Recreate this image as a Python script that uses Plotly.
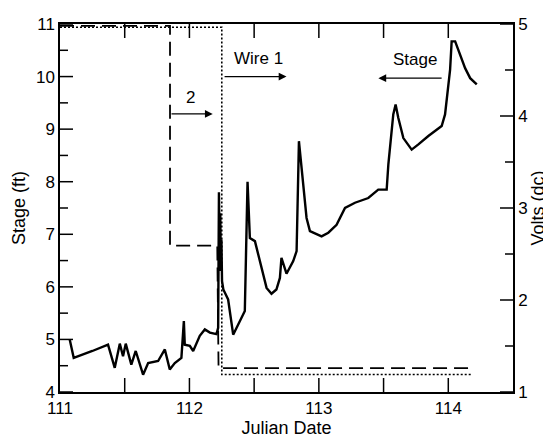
import plotly.graph_objects as go

# Stage (ft) vs Julian date
stage_day = [111.075, 111.106, 111.25, 111.371, 111.423, 111.462, 111.487, 111.508, 111.551,
             111.585, 111.642, 111.681, 111.758, 111.810, 111.848, 111.887, 111.938, 111.957,
             111.964, 112.003, 112.029, 112.054, 112.080, 112.119, 112.158, 112.209, 112.222,
             112.228, 112.233, 112.238, 112.243, 112.247, 112.252, 112.262, 112.299, 112.338,
             112.377, 112.415, 112.428, 112.449, 112.467, 112.506, 112.544, 112.596, 112.634,
             112.672, 112.699, 112.711, 112.750, 112.802, 112.828, 112.846, 112.905, 112.931,
             113.021, 113.073, 113.137, 113.202, 113.279, 113.382, 113.459, 113.524, 113.537,
             113.575, 113.593, 113.614, 113.653, 113.717, 113.769, 113.846, 113.949, 113.975,
             114.014, 114.026, 114.053, 114.091, 114.130, 114.169, 114.220]
stage_ft = [5.00, 4.65, 4.78, 4.90, 4.46, 4.92, 4.68, 4.92, 4.52,
            4.78, 4.33, 4.55, 4.59, 4.81, 4.43, 4.55, 4.65, 5.35,
            4.90, 4.88, 4.78, 4.94, 5.07, 5.19, 5.13, 5.10, 5.22,
            7.80, 6.80, 7.40, 6.30, 6.90, 6.11, 5.95, 5.76, 5.09,
            5.28, 5.47, 5.54, 8.00, 6.93, 6.87, 6.49, 5.98, 5.87,
            5.95, 6.17, 6.55, 6.25, 6.49, 6.68, 8.77, 7.31, 7.06,
            6.96, 7.03, 7.18, 7.50, 7.60, 7.69, 7.85, 7.85, 8.33,
            9.28, 9.47, 9.21, 8.83, 8.61, 8.71, 8.87, 9.06, 9.28,
            10.13, 10.67, 10.67, 10.42, 10.16, 9.97, 9.85]

# Wire 1 (dotted) and wire 2 (dashed), volts dc
wire1_day = [111.0, 112.25, 112.25, 114.18]
wire1_volts = [4.965, 4.965, 1.19, 1.19]
wire2_day = [111.0, 111.85, 111.85, 112.215, 112.225, 114.19]
wire2_volts = [4.98, 4.98, 2.59, 2.59, 1.26, 1.26]

# tick values / labels
x_labels = [111, 112, 113, 114]
x_tickmarks = [111.5, 112, 112.5, 113, 113.5, 114]
stage_ticks = [4, 5, 6, 7, 8, 9, 10, 11]
stage_minor = [4.5, 5.5, 6.5, 7.5, 8.5, 9.5, 10.5]
volt_ticks = [1, 2, 3, 4, 5]
volt_minor = [1.5, 2.5, 3.5, 4.5]

X_RANGE = [111, 114.5]
STAGE_RANGE = [4, 11]
VOLT_RANGE = [1, 5]

FAM = "Liberation Sans"
font = dict(family=FAM, size=17, color="black")
title_font = dict(family=FAM, size=18, color="black")

fig = go.Figure()
fig.add_trace(go.Scatter(x=wire2_day, y=wire2_volts, yaxis="y2", mode="lines",
                         line=dict(color="black", width=1.8, dash="14px,7px"),
                         showlegend=False, hoverinfo="skip"))
fig.add_trace(go.Scatter(x=wire1_day, y=wire1_volts, yaxis="y2", mode="lines",
                         line=dict(color="black", width=1.6, dash="2px,2px"),
                         showlegend=False, hoverinfo="skip"))
fig.add_trace(go.Scatter(x=stage_day, y=stage_ft, mode="lines",
                         line=dict(color="black", width=2.4),
                         showlegend=False))

base = dict(showgrid=False, zeroline=False, automargin=False, tickfont=font, ticks="",
            showline=True, linecolor="black", linewidth=1.5)

fig.update_layout(
    template="none",
    width=551, height=434,
    margin=dict(l=52, r=46, t=16, b=50),
    paper_bgcolor="white", plot_bgcolor="white",
    font=font,
    xaxis=dict(range=X_RANGE, tickmode="array", tickvals=x_labels, mirror=True,
               title=dict(text="Julian Date", standoff=0, font=title_font), **base),
    yaxis=dict(range=STAGE_RANGE, tickmode="array", tickvals=stage_ticks,
               title=dict(text="Stage (ft)", standoff=6, font=title_font), **base),
    yaxis2=dict(range=VOLT_RANGE, tickmode="array", tickvals=volt_ticks,
                overlaying="y", side="right", anchor="x",
                title=dict(text="Volts (dc)", standoff=0, font=title_font), **base),
)

# inward tick marks (drawn as pixel-length shapes anchored at the axis lines)
tick_line = dict(color="black", width=1.5)
for v in x_tickmarks:
    fig.add_shape(type="line", xref="x", yref="paper", ysizemode="pixel", yanchor=0,
                  x0=v, x1=v, y0=0, y1=14, line=tick_line)
    fig.add_shape(type="line", xref="x", yref="paper", ysizemode="pixel", yanchor=1,
                  x0=v, x1=v, y0=0, y1=-14, line=tick_line)
for ticks, length, yref in [(stage_ticks, 13, "y"), (stage_minor, 8, "y")]:
    for v in ticks:
        fig.add_shape(type="line", xref="paper", yref=yref, xsizemode="pixel", xanchor=0,
                      x0=0, x1=length, y0=v, y1=v, line=tick_line)
for ticks, length in [(volt_ticks, 13), (volt_minor, 8)]:
    for v in ticks:
        fig.add_shape(type="line", xref="paper", yref="y2", xsizemode="pixel", xanchor=1,
                      x0=0, x1=-length, y0=v, y1=v, line=tick_line)

# arrows
arrow = dict(showarrow=True, arrowhead=2, arrowsize=1.2, arrowwidth=1.3, arrowcolor="black",
             axref="x", ayref="y", xref="x", yref="y", text="")
fig.add_annotation(x=112.75, y=10.0, ax=112.26, ay=10.0, **arrow)
fig.add_annotation(x=112.18, y=9.29, ax=111.85, ay=9.29, **arrow)
fig.add_annotation(x=113.46, y=9.97, ax=113.96, ay=9.97, **arrow)

fig.add_annotation(x=112.53, y=10.35, text="Wire 1", showarrow=False, xref="x", yref="y", font=font)
fig.add_annotation(x=112.01, y=9.6, text="2", showarrow=False, xref="x", yref="y", font=font)
fig.add_annotation(x=113.74, y=10.33, text="Stage", showarrow=False, xref="x", yref="y", font=font)

fig.write_html("out.html")
